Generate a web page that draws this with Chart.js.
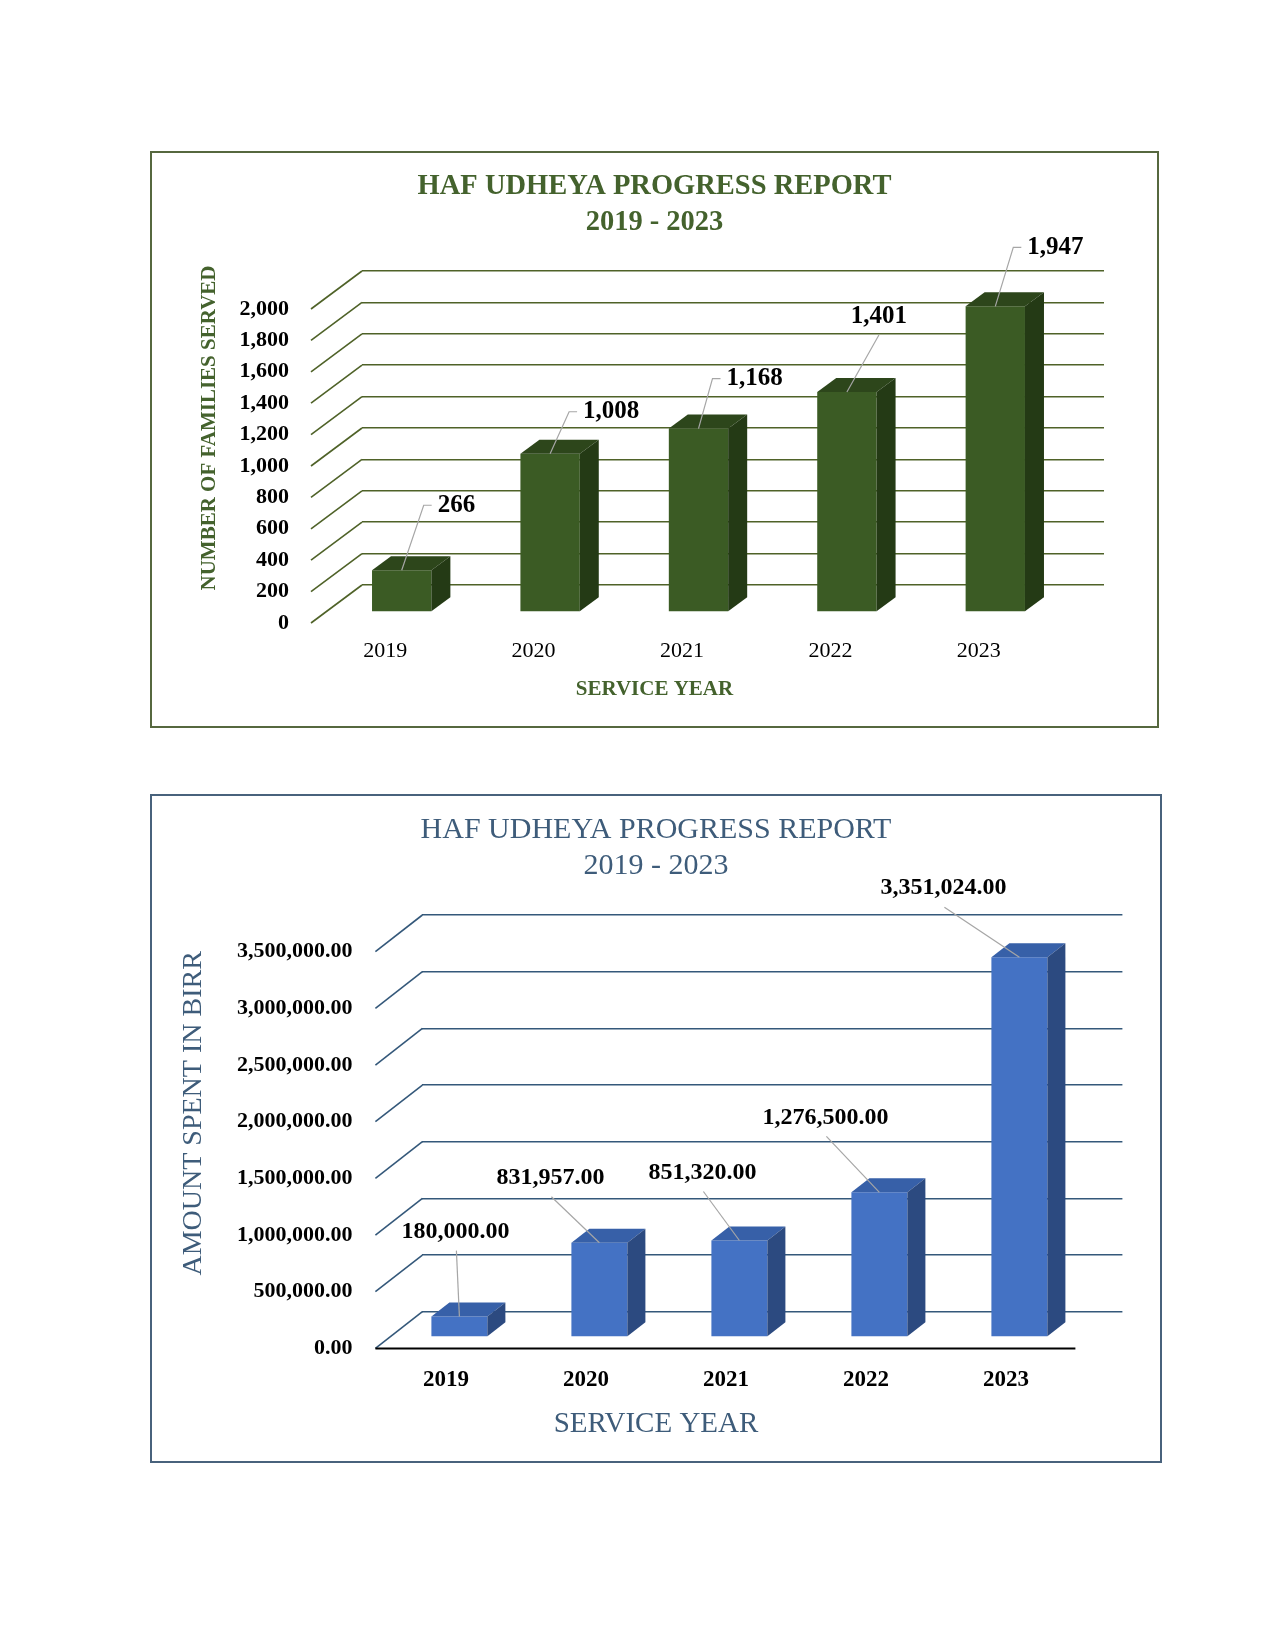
<!DOCTYPE html>
<html lang="en">
<head>
<meta charset="UTF-8">
<title>HAF Udheya Progress Report</title>
<script src="https://cdn.jsdelivr.net/npm/chart.js@4"></script>
<style>
    html, body { margin: 0; padding: 0; background: #fff; }
    body { width: 1275px; height: 1650px; position: relative; }
    .panel { position: absolute; }
    .plot { position: absolute; left: 0; top: 0; width: 100%; height: 100%; }
    .frame { position: absolute; left: 0; top: 0; right: 0; bottom: 0; box-sizing: border-box; border: 2px solid; pointer-events: none; }
</style>
</head>
<body>

<div class="panel" style="left:150px; top:151px; width:1009px; height:577px;">
    <div class="plot"><canvas id="familiesChart"></canvas></div>
    <div class="frame" style="border-color:#56683f;"></div>
</div>

<div class="panel" style="left:150px; top:794px; width:1012px; height:669px;">
    <div class="plot"><canvas id="amountChart"></canvas></div>
    <div class="frame" style="border-color:#48627c;"></div>
</div>

<script>
// data
const years = ['2019', '2020', '2021', '2022', '2023'];
const familiesServed = [266, 1008, 1168, 1401, 1947];
const familiesTicks = [0, 200, 400, 600, 800, 1000, 1200, 1400, 1600, 1800, 2000];
const amountSpent = [180000, 831957, 851320, 1276500, 3351024];
const amountTicks = [0, 500000, 1000000, 1500000, 2000000, 2500000, 3000000, 3500000];

// where each value label sits relative to the top of its bar (layout only)
const familiesLabelLayout = [
    { dx: 36, dy: -65, leader: 'elbow' },
    { dx: 33, dy: -42, leader: 'elbow' },
    { dx: 28, dy: -50, leader: 'elbow' },
    { dx: 32, dy: -75, leader: 'straight' },
    { dx: 32, dy: -59, leader: 'elbow' }
];
const amountLabelLayout = [
    { dx: -4, dy: -85 },
    { dx: -49, dy: -65 },
    { dx: -37, dy: -68 },
    { dx: -54, dy: -75 },
    { dx: -76, dy: -69 }
];

const SERIF = "'Liberation Serif', 'Times New Roman', serif";
Chart.defaults.font.family = SERIF;
Chart.defaults.color = '#000';

const fmtInt = v => v.toLocaleString('en-US');
const fmtMoney = v => v.toLocaleString('en-US', { minimumFractionDigits: 2, maximumFractionDigits: 2 });

// fake 3D: diagonal floor lines, bars pushed to the front, top and side faces, value labels
function threeD(cfg) {
    return {
        id: 'threeD',
        beforeDatasetsDraw(chart) {
            const { ctx, chartArea: a, scales: { y } } = chart;
            ctx.save();
            ctx.strokeStyle = cfg.gridColor;
            ctx.lineWidth = cfg.gridWidth;
            y.ticks.forEach(t => {
                const py = y.getPixelForValue(t.value);
                ctx.beginPath();
                ctx.moveTo(a.left - cfg.edge[0], py + cfg.edge[1]);
                ctx.lineTo(a.left, py);
                ctx.stroke();
            });
            if (cfg.floorColor) {
                const py = y.getPixelForValue(0) + cfg.edge[1];
                ctx.strokeStyle = cfg.floorColor;
                ctx.lineWidth = 2;
                ctx.beginPath();
                ctx.moveTo(a.left - cfg.edge[0], py);
                ctx.lineTo(a.right - cfg.edge[0], py);
                ctx.stroke();
            }
            ctx.restore();
            ctx.save();
            ctx.translate(-cfg.front[0], cfg.front[1]);
        },
        afterDatasetsDraw(chart) {
            const ctx = chart.ctx;
            const [dx, dy] = cfg.depth;
            const bars = chart.getDatasetMeta(0).data;
            bars.forEach(bar => {
                const { x, y, base, width } = bar.getProps(['x', 'y', 'base', 'width'], true);
                const l = x - width / 2, r = x + width / 2;
                ctx.fillStyle = cfg.topColor;
                ctx.beginPath();
                ctx.moveTo(l, y); ctx.lineTo(l + dx, y - dy); ctx.lineTo(r + dx, y - dy); ctx.lineTo(r, y);
                ctx.closePath(); ctx.fill();
                ctx.fillStyle = cfg.sideColor;
                ctx.beginPath();
                ctx.moveTo(r, y); ctx.lineTo(r + dx, y - dy); ctx.lineTo(r + dx, base - dy); ctx.lineTo(r, base);
                ctx.closePath(); ctx.fill();
            });
            ctx.restore();

            // value labels with leader lines
            const values = chart.data.datasets[0].data;
            ctx.save();
            ctx.font = cfg.labelFont;
            ctx.fillStyle = '#000';
            ctx.textBaseline = 'middle';
            ctx.strokeStyle = '#a6a6a6';
            ctx.lineWidth = 1.2;
            bars.forEach((bar, i) => {
                const bx = bar.x - cfg.front[0];
                const by = bar.y + cfg.front[1];
                const lay = cfg.labels[i];
                const text = cfg.format(values[i]);
                const cy = by + lay.dy;
                ctx.beginPath();
                if (lay.leader === 'elbow') {
                    const left = bx + lay.dx;
                    ctx.moveTo(bx, by);
                    ctx.lineTo(left - 14, cy);
                    ctx.lineTo(left - 6, cy);
                    ctx.stroke();
                    ctx.textAlign = 'left';
                    ctx.fillText(text, left, cy);
                } else if (lay.leader === 'straight') {
                    const cx = bx + lay.dx;
                    ctx.moveTo(bx, by);
                    ctx.lineTo(cx, cy + 18);
                    ctx.stroke();
                    ctx.textAlign = 'center';
                    ctx.fillText(text, cx, cy);
                } else {
                    const cx = bx + lay.dx;
                    ctx.moveTo(cx + 1, cy + 19);
                    ctx.lineTo(bx, by);
                    ctx.stroke();
                    ctx.textAlign = 'center';
                    ctx.fillText(text, cx, cy);
                }
            });
            ctx.restore();
        }
    };
}

// ---------- chart 1 : families served ----------
const green = '#44622d';
new Chart(document.getElementById('familiesChart'), {
    type: 'bar',
    data: {
        labels: years,
        datasets: [{
            data: familiesServed,
            backgroundColor: '#3b5b24',
            borderWidth: 0,
            barPercentage: 0.4,
            categoryPercentage: 1
        }]
    },
    options: {
        responsive: true,
        maintainAspectRatio: false,
        animation: false,
        layout: { padding: 0 },
        plugins: {
            legend: { display: false },
            tooltip: { enabled: false },
            title: {
                display: true,
                text: ['HAF UDHEYA PROGRESS REPORT', '2019 - 2023'],
                color: green,
                font: { size: 28.5, weight: 'bold', lineHeight: 36 / 28.5 },
                padding: { top: 17.5, bottom: 30.5 }
            },
            subtitle: {
                display: true,
                position: 'bottom',
                text: 'SERVICE YEAR',
                color: green,
                font: { size: 21, weight: 'bold', lineHeight: 1.2 },
                padding: { top: 0, bottom: 25.4 }
            }
        },
        scales: {
            x: {
                grid: { display: false },
                border: { display: false },
                ticks: { font: { size: 22 }, padding: 45.4, labelOffset: -51 },
                afterFit: s => { s.height = 92.4; }
            },
            y: {
                min: 0,
                max: 2000,
                afterBuildTicks: s => { s.ticks = familiesTicks.map(v => ({ value: v })); },
                grid: { color: '#4f6228', lineWidth: 1.6, drawTicks: false },
                border: { display: false },
                ticks: { font: { size: 22, weight: 'bold' }, padding: 73, labelOffset: 38, callback: v => fmtInt(v) },
                title: {
                    display: true,
                    text: 'NUMBER OF FAMILIES SERVED',
                    color: green,
                    font: { size: 21, weight: 'bold', lineHeight: 1.2 },
                    padding: { top: 47.4, bottom: 0 }
                },
                afterFit: s => { s.width = 212; }
            },
            y2: {
                position: 'right',
                grid: { display: false },
                border: { display: false },
                ticks: { display: false },
                afterFit: s => { s.width = 55; }
            }
        }
    },
    plugins: [threeD({
        gridColor: '#4f6228',
        gridWidth: 1.6,
        edge: [51, 38],
        front: [34.5, 27],
        depth: [19, 14],
        topColor: '#2d461b',
        sideColor: '#243a15',
        labelFont: 'bold 25px ' + SERIF,
        labels: familiesLabelLayout,
        format: fmtInt
    })]
});

// ---------- chart 2 : amount spent ----------
const slate = '#3e5c7a';
new Chart(document.getElementById('amountChart'), {
    type: 'bar',
    data: {
        labels: years,
        datasets: [{
            data: amountSpent,
            backgroundColor: '#4472c4',
            borderWidth: 0,
            barPercentage: 0.4,
            categoryPercentage: 1
        }]
    },
    options: {
        responsive: true,
        maintainAspectRatio: false,
        animation: false,
        layout: { padding: 0 },
        plugins: {
            legend: { display: false },
            tooltip: { enabled: false },
            title: {
                display: true,
                text: ['HAF UDHEYA PROGRESS REPORT', '2019 - 2023'],
                color: slate,
                font: { size: 30, weight: 'normal', lineHeight: 36 / 30 },
                padding: { top: 18.2, bottom: 30.8 }
            },
            subtitle: {
                display: true,
                position: 'bottom',
                text: 'SERVICE YEAR',
                color: slate,
                font: { size: 29, weight: 'normal', lineHeight: 1.2 },
                padding: { top: 0, bottom: 21.3 }
            }
        },
        scales: {
            x: {
                grid: { display: false },
                border: { display: false },
                ticks: { font: { size: 23, weight: 'bold' }, padding: 46.5, labelOffset: -46.4 },
                afterFit: s => { s.height = 95.2; }
            },
            y: {
                min: 0,
                max: 3500000,
                afterBuildTicks: s => { s.ticks = amountTicks.map(v => ({ value: v })); },
                grid: { color: '#34587a', lineWidth: 1.6, drawTicks: false },
                border: { display: false },
                ticks: { font: { size: 22, weight: 'bold' }, padding: 70, labelOffset: 36.7, callback: v => fmtMoney(v) },
                title: {
                    display: true,
                    text: 'AMOUNT SPENT IN BIRR',
                    color: slate,
                    font: { size: 28, weight: 'normal', lineHeight: 1.2 },
                    padding: { top: 26.8, bottom: 0 }
                },
                afterFit: s => { s.width = 272.4; }
            },
            y2: {
                position: 'right',
                grid: { display: false },
                border: { display: false },
                ticks: { display: false },
                afterFit: s => { s.width = 39.6; }
            }
        }
    },
    plugins: [threeD({
        gridColor: '#34587a',
        gridWidth: 1.6,
        edge: [47, 36.7],
        front: [33, 25.3],
        depth: [18, 14],
        topColor: '#3760a8',
        sideColor: '#2c4a80',
        floorColor: '#000',
        labelFont: 'bold 24px ' + SERIF,
        labels: amountLabelLayout,
        format: fmtMoney
    })]
});
</script>

</body>
</html>
